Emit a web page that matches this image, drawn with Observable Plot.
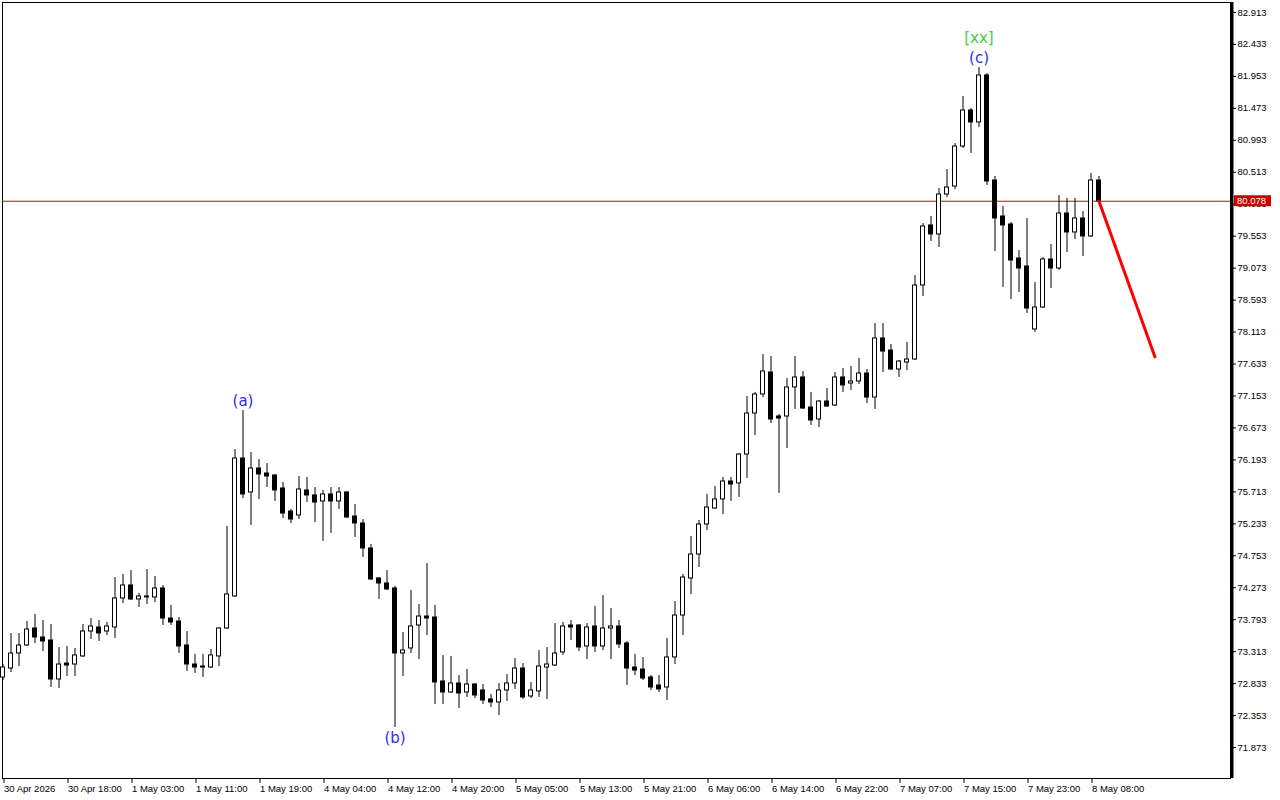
<!DOCTYPE html>
<html>
<head>
<meta charset="utf-8">
<script src="https://cdn.jsdelivr.net/npm/d3@7"></script>
<script src="https://cdn.jsdelivr.net/npm/@observablehq/plot@0.6"></script>
<style>
html, body { margin: 0; padding: 0; background: #fff; }
#chart svg { display: block; }
</style>
</head>
<body>
<div id="chart"></div>
<script>
// ---- Data (H1 candles) ----
const opens = [72.925,73.060,73.286,73.406,73.661,73.526,73.481,72.895,73.135,73.120,73.241,73.616,73.676,73.616,73.676,74.112,74.307,74.097,74.142,74.127,74.262,73.811,73.766,73.406,73.120,73.090,73.075,73.241,73.661,74.142,76.214,75.704,76.064,75.989,75.959,75.764,75.418,75.358,75.734,75.659,75.569,75.674,75.569,75.704,75.343,75.238,74.863,74.412,74.337,74.262,73.286,73.361,73.706,73.841,73.826,72.865,72.700,72.835,72.700,72.820,72.730,72.595,72.550,72.730,72.835,73.060,72.640,72.715,73.075,73.105,73.301,73.706,73.706,73.391,73.691,73.391,73.661,73.691,73.436,73.075,73.045,72.925,72.805,72.775,73.226,73.856,74.412,74.772,75.223,75.463,75.599,75.869,75.839,76.274,76.890,77.176,77.506,76.845,76.845,77.281,77.431,76.980,76.800,77.070,77.010,77.431,77.341,77.371,77.491,77.130,78.017,77.836,77.551,77.656,77.701,78.813,79.714,79.579,80.179,80.299,80.900,81.441,81.261,81.967,80.390,79.849,79.729,79.218,79.098,78.152,78.482,79.203,79.068,79.894,79.609,79.819,79.549,80.390];
const highs = [73.120,73.586,73.586,73.766,73.871,73.781,73.721,73.376,73.391,73.361,73.721,73.811,73.781,73.751,74.427,74.472,74.532,74.187,74.547,74.442,74.307,74.007,73.826,73.616,73.271,73.271,73.346,73.676,75.193,76.349,76.935,76.304,76.199,76.139,75.974,75.854,75.448,75.944,75.929,75.779,75.734,75.779,75.779,75.719,75.523,75.298,74.923,74.427,74.532,74.292,73.601,74.232,74.022,74.637,74.007,73.256,73.241,72.955,73.045,72.835,72.820,72.670,72.835,72.970,73.210,73.135,72.850,73.331,73.376,73.736,73.751,73.781,73.721,73.736,73.992,74.157,73.961,73.781,73.466,73.271,73.226,72.955,72.955,73.511,74.067,74.472,75.043,75.283,75.674,75.794,75.929,75.929,76.289,77.145,77.206,77.776,77.746,76.875,77.416,77.746,77.521,77.206,77.085,77.266,77.506,77.566,77.596,77.716,77.551,78.242,78.242,77.926,77.686,77.956,78.963,79.744,79.849,80.269,80.555,80.945,81.651,81.471,82.087,81.997,80.450,79.999,79.759,79.338,79.819,78.858,79.233,79.428,80.164,80.119,80.119,79.924,80.495,80.450];
const lows = [72.880,73.000,73.090,73.391,73.436,73.316,72.775,72.760,72.940,72.940,73.226,73.496,73.466,73.556,73.511,74.037,74.082,73.976,74.022,74.052,73.706,73.706,73.286,73.015,72.985,72.925,73.060,73.090,73.646,74.127,75.614,75.208,75.599,75.779,75.569,75.313,75.238,75.298,75.553,75.253,74.968,75.088,75.448,75.313,75.028,74.727,74.382,74.097,74.232,72.174,72.940,73.286,73.195,73.556,72.520,72.520,72.685,72.460,72.625,72.610,72.520,72.475,72.354,72.565,72.745,72.595,72.610,72.625,72.595,73.090,73.256,73.481,73.316,73.195,73.301,73.331,73.195,73.361,72.805,72.955,72.880,72.730,72.700,72.580,73.120,73.556,74.172,74.577,75.133,75.448,75.373,75.569,75.629,75.914,76.560,77.130,76.740,75.689,76.364,76.950,76.950,76.710,76.680,76.980,76.995,77.206,77.236,77.326,77.040,76.950,77.506,77.536,77.431,77.536,77.686,78.647,79.473,79.383,80.134,80.254,80.870,80.795,81.186,80.314,79.323,78.783,78.602,78.707,78.392,78.107,78.467,78.768,79.038,79.308,79.503,79.248,79.534,80.078];
const closes = [73.075,73.286,73.406,73.646,73.526,73.466,72.895,73.120,73.105,73.256,73.616,73.691,73.586,73.691,74.112,74.307,74.097,74.142,74.127,74.262,73.811,73.751,73.391,73.120,73.075,73.075,73.256,73.661,74.172,76.214,75.674,76.064,75.974,75.944,75.734,75.388,75.298,75.749,75.659,75.553,75.674,75.569,75.704,75.328,75.238,74.863,74.397,74.337,74.247,73.286,73.331,73.691,73.841,73.811,72.850,72.700,72.835,72.685,72.820,72.655,72.580,72.550,72.730,72.835,73.060,72.625,72.730,73.090,73.120,73.286,73.691,73.676,73.376,73.676,73.391,73.661,73.691,73.421,73.060,73.030,72.910,72.775,72.745,73.226,73.856,74.427,74.772,75.223,75.478,75.599,75.869,75.824,76.274,76.890,77.176,77.521,76.800,76.815,77.281,77.431,76.965,76.785,77.070,76.995,77.431,77.311,77.371,77.491,77.130,78.017,77.821,77.551,77.671,77.701,78.813,79.699,79.579,80.179,80.284,80.900,81.441,81.261,81.967,80.375,79.819,79.714,79.188,79.068,78.467,78.482,79.203,79.068,79.894,79.609,79.819,79.549,80.390,80.078];

const xTickIndex = [0,8,16,24,32,40,48,56,64,72,80,88,96,104,112,120,128,136];
const xTickLabels = ["30 Apr 2026","30 Apr 18:00","1 May 03:00","1 May 11:00","1 May 19:00","4 May 04:00","4 May 12:00","4 May 20:00","5 May 05:00","5 May 13:00","5 May 21:00","6 May 06:00","6 May 14:00","6 May 22:00","7 May 07:00","7 May 15:00","7 May 23:00","8 May 08:00"];
const yTicks = [82.913,82.433,81.953,81.473,80.993,80.513,80.033,79.553,79.073,78.593,78.113,77.633,77.153,76.673,76.193,75.713,75.233,74.753,74.273,73.793,73.313,72.833,72.353,71.873];

const currentPrice = 80.078;
const forecastIndex = [137, 144];
const forecastPrice = [80.078, 77.74];

const waveText  = ["(a)", "(b)", "(c)", "[xx]"];
const waveIndex = [30, 49, 122, 122];
const waveSide  = ["high", "low", "high", "high"];
const waveColor = ["#2b2bff", "#2b2bff", "#2b2bff", "#3fcf3f"];
const waveShift = [-9, 11, -9, -29];

const xDomain = [-0.0625, 153.4375];
const yDomain = [71.408, 83.063];

// ---- Build tables ----
const candles = opens.map((o, i) => ({i, o, h: highs[i], l: lows[i], c: closes[i]}));
const forecast = forecastIndex.map((x, k) => ({x, y: forecastPrice[k]}));
const waves = waveText.map((t, k) => {
  const c = candles[waveIndex[k]];
  return {t, x: waveIndex[k], y: waveSide[k] === "high" ? c.h : c.l, color: waveColor[k], dy: waveShift[k]};
});
const labelMap = new Map(xTickIndex.map((d, k) => [d, xTickLabels[k]]));

const chart = Plot.plot({
  width: 1280,
  height: 800,
  marginLeft: 2,
  marginRight: 50,
  marginTop: 2,
  marginBottom: 22,
  style: {background: "#fff", fontFamily: "'Liberation Sans', Arial, sans-serif", fontSize: "9.5px", color: "#000", overflow: "visible"},
  x: {type: "linear", domain: xDomain, axis: null},
  y: {type: "linear", domain: yDomain, axis: null},
  marks: [
    Plot.frame({stroke: "#000", strokeWidth: 1, shapeRendering: "crispEdges"}),
    Plot.ruleY([currentPrice], {stroke: "#d40000", strokeWidth: 1}),
    Plot.ruleX(candles, {x: "i", y1: "l", y2: "h", stroke: "#000", strokeWidth: 1}),
    Plot.rect(candles, {
      x1: d => d.i - 0.25, x2: d => d.i + 0.25,
      y1: "o", y2: "c",
      fill: d => d.c > d.o ? "#fff" : "#000",
      stroke: "#000", strokeWidth: 1
    }),
    Plot.line(forecast, {x: "x", y: "y", stroke: "#ff0000", strokeWidth: 3}),
    Plot.ruleX([xDomain[1]], {stroke: "#000", strokeWidth: 3, dx: 1.5}),
    Plot.axisY(yTicks, {anchor: "right", tickSize: 5, tickPadding: 2, tickFormat: d => d.toFixed(3), fontSize: 9.5}),
    Plot.axisX(xTickIndex, {anchor: "bottom", tickSize: 5, tickPadding: 2, textAnchor: "start", dx: 1, tickFormat: d => labelMap.get(d), fontSize: 9.5}),
    ...waves.map(w => Plot.text([w], {x: "x", y: "y", text: "t", fill: w.color, dy: w.dy, fontSize: 15, fontFamily: "'DejaVu Sans', sans-serif", textAnchor: "middle"}))
  ]
});

document.getElementById("chart").appendChild(chart);
const svg = d3.select(chart);

// current price tag on the price scale
const yS = chart.scale("y");
const xS = chart.scale("x");
const py = yS.apply(currentPrice);
const px = xS.range[1];
svg.append("rect").attr("x", px + 4).attr("y", py - 5.5).attr("width", 37).attr("height", 11).attr("fill", "#cc0000");
svg.append("text").attr("x", px + 7).attr("y", py).attr("dy", "0.34em").attr("fill", "#fff")
  .attr("text-anchor", "start")
  .attr("font-family", "'Liberation Sans', Arial, sans-serif").attr("font-size", "9.5px").text(currentPrice.toFixed(3));
</script>
</body>
</html>
